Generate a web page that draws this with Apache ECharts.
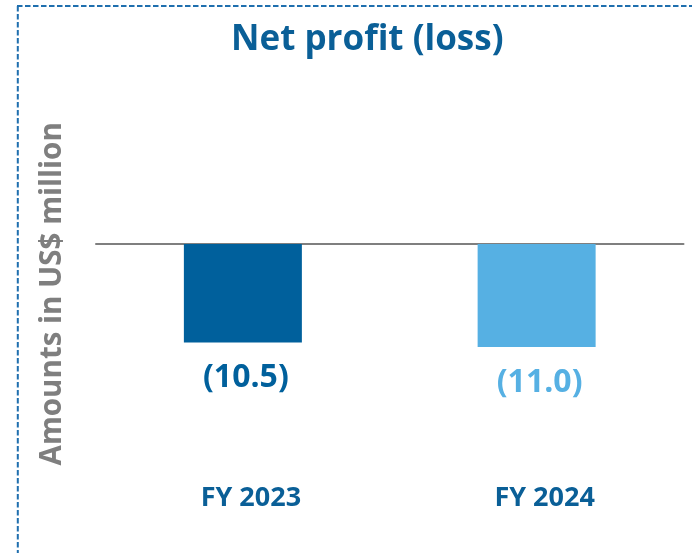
<!DOCTYPE html>
<html>
<head>
<meta charset="utf-8">
<script src="https://cdn.jsdelivr.net/npm/echarts@6/dist/echarts.min.js"></script>
<style>
html,body{margin:0;padding:0;background:#fff;}
#chart{width:692px;height:553px;}
</style>
</head>
<body>
<div id="chart"></div>
<script>
const titleText = 'Net profit (loss)';
const yAxisTitle = 'Amounts in US$ million';
const categories = ['FY 2023', 'FY 2024'];
const values = [-10.5, -11.0];
const barColors = ['#00609c', '#56b0e3'];
const labelColors = ['#00609c', '#56b0e3'];

const chart = echarts.init(document.getElementById('chart'), null, {renderer: 'canvas'});
const FONT = '"Open Sans", "Noto Sans", sans-serif';

chart.setOption({
  animation: false,
  backgroundColor: '#ffffff',
  title: {
    text: titleText,
    left: 226,
    top: 18,
    textStyle: {fontFamily: FONT, fontSize: 35, fontWeight: 'bold', color: '#0a5f97'}
  },
  graphic: [
    {type: 'line', shape: {x1: 17, y1: 6, x2: 692, y2: 6},
     style: {stroke: '#1f6fae', lineWidth: 2, lineDash: [5.5, 2.5]}},
    {type: 'line', shape: {x1: 17.8, y1: 6, x2: 17.8, y2: 553},
     style: {stroke: '#1f6fae', lineWidth: 2, lineDash: [5.5, 2.5]}}
  ],
  grid: {left: 96, right: 8.5, top: 150.3, height: 281.1, containLabel: false, outerBoundsMode: 'none'},
  xAxis: {
    type: 'category',
    data: categories,
    axisLine: {onZero: true, lineStyle: {color: '#7f7f7f', width: 2}},
    axisTick: {show: false},
    axisLabel: {
      margin: 53,
      fontFamily: FONT, fontSize: 27, fontWeight: 'bold', color: '#0a5f97',
      padding: [0, 0, 0, 16]
    }
  },
  yAxis: {
    type: 'value',
    min: -20, max: 10, interval: 10,
    name: yAxisTitle,
    nameLocation: 'middle',
    nameRotate: 90,
    nameGap: 28.5,
    nameTextStyle: {fontFamily: FONT, fontSize: 29.5, fontWeight: 'bold', color: '#7f7f7f', padding: [0, 6, 0, 0]},
    axisLine: {show: false},
    axisTick: {show: false},
    axisLabel: {show: false},
    splitLine: {show: false}
  },
  series: [{
    type: 'bar',
    barWidth: 118,
    data: values.map((v, i) => ({
      value: v,
      itemStyle: {color: barColors[i]},
      label: {color: labelColors[i]}
    })),
    label: {
      show: true,
      position: 'bottom',
      distance: 19.5,
      padding: [0, 0, 0, 6],
      fontFamily: FONT, fontSize: 32, fontWeight: 'bold',
      formatter: p => '(' + Math.abs(p.value).toFixed(1) + ')'
    }
  }]
});
</script>
</body>
</html>
